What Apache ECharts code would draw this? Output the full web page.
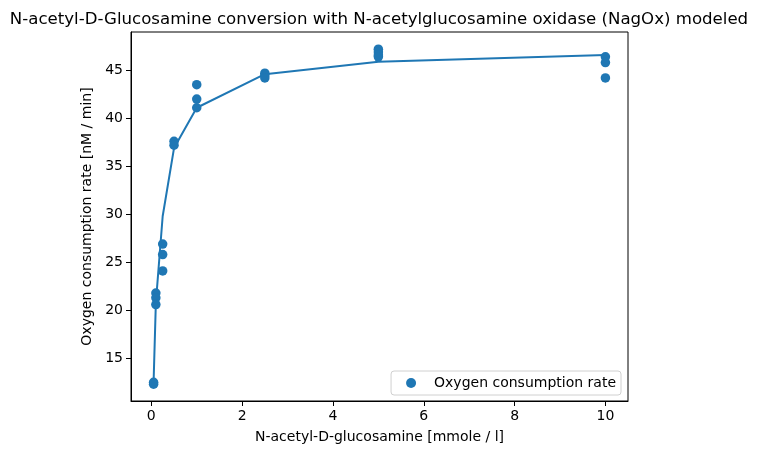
<!DOCTYPE html>
<html>
<head>
<meta charset="utf-8">
<script src="https://cdn.jsdelivr.net/npm/echarts@6/dist/echarts.min.js"></script>
<style>
  html, body { margin: 0; padding: 0; background: #fff; }
  #chart { width: 758px; height: 455px; }
</style>
</head>
<body>
<div id="chart"></div>
<script>
// measured points (substrate conc, O2 rate)
const measX = [0.05, 0.05, 0.1, 0.1, 0.1, 0.25, 0.25, 0.25, 0.5, 0.5, 1, 1, 1,
  2.5, 2.5, 2.5, 5, 5, 5, 5, 10, 10, 10]
const measY = [12.5, 12.3, 21.8, 21.3, 20.6, 26.9, 25.8, 24.1, 37.6, 37.2, 43.5, 42.0, 41.1,
  44.7, 44.5, 44.2, 47.2, 46.9, 46.6, 46.4, 46.4, 45.8, 44.2]

// model curve, one value per concentration
const modelX = [0.05, 0.1, 0.25, 0.5, 1, 2.5, 5, 10]
const modelY = [12.5, 20.8, 29.8, 36.9, 41.1, 44.6, 45.9, 46.6]

const xTicks = [0, 2, 4, 6, 8, 10]
const yTicks = [15, 20, 25, 30, 35, 40, 45]

const blue = '#1f77b4'
const font = 'DejaVu Sans'

const chart = echarts.init(document.getElementById('chart'), null, { renderer: 'canvas' })

const axisCommon = {
  axisLine: { onZero: false, lineStyle: { color: '#000', width: 1 } },
  axisTick: { inside: false, length: 5, lineStyle: { color: '#000' } },
  splitLine: { show: false },
  nameTextStyle: { color: '#000', fontFamily: font, fontSize: 14 },
}

chart.setOption({
  animation: false,
  backgroundColor: '#fff',
  title: {
    text: 'N-acetyl-D-Glucosamine conversion with N-acetylglucosamine oxidase (NagOx) modeled',
    left: 'center',
    top: 6,
    textStyle: { color: '#000', fontFamily: font, fontSize: 16.6, fontWeight: 'normal' },
  },
  grid: {
    left: 131, right: 130, top: 32, bottom: 54,
    show: true, borderColor: '#000', borderWidth: 1, backgroundColor: 'transparent',
  },
  legend: {
    data: ['Oxygen consumption rate'],
    right: 137, bottom: 60,
    orient: 'vertical',
    padding: [5, 5, 5, 15],
    itemGap: 0,
    itemWidth: 10, itemHeight: 10,
    borderColor: '#d0d0d0', borderWidth: 1, borderRadius: 3,
    backgroundColor: '#fff',
    textStyle: { color: '#000', fontFamily: font, fontSize: 14, padding: [0, 0, 0, 13] },
  },
  xAxis: {
    type: 'value',
    min: -0.4475, max: 10.4975,
    name: 'N-acetyl-D-glucosamine [mmole / l]',
    nameLocation: 'middle',
    nameGap: 29,
    ...axisCommon,
    axisTick: { ...axisCommon.axisTick, customValues: xTicks },
    axisLabel: { customValues: xTicks, color: '#000', fontFamily: font, fontSize: 14, margin: 8 },
  },
  yAxis: {
    type: 'value',
    min: 10.55, max: 48.99,
    name: 'Oxygen consumption rate [nM / min]',
    nameLocation: 'middle',
    nameGap: 31,
    ...axisCommon,
    axisTick: { ...axisCommon.axisTick, customValues: yTicks },
    axisLabel: { customValues: yTicks, color: '#000', fontFamily: font, fontSize: 14, margin: 8 },
  },
  series: [
    {
      type: 'line',
      data: modelX.map((x, i) => [x, modelY[i]]),
      showSymbol: false,
      symbol: 'none',
      lineStyle: { color: blue, width: 2 },
      z: 2,
    },
    {
      name: 'Oxygen consumption rate',
      type: 'scatter',
      data: measX.map((x, i) => [x, measY[i]]),
      symbol: 'circle',
      symbolSize: 9.5,
      itemStyle: { color: blue, opacity: 1 },
      z: 3,
    },
  ],
})
</script>
</body>
</html>
